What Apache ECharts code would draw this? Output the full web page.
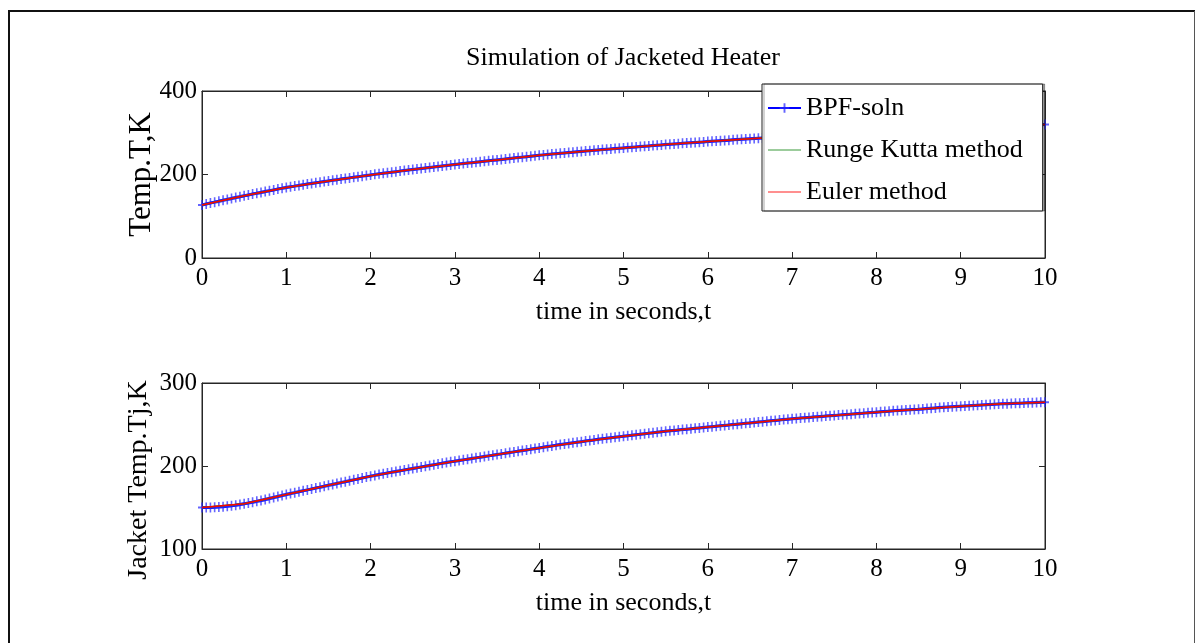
<!DOCTYPE html>
<html>
<head>
<meta charset="utf-8">
<script src="https://cdn.jsdelivr.net/npm/echarts@6/dist/echarts.min.js"></script>
<style>
  html, body { margin: 0; padding: 0; background: #fff; }
  #chart { width: 1197px; height: 643px; }
</style>
</head>
<body>
<div id="chart"></div>
<script>
// Time grid of the BPF solution (s)
const tFine = [
  0,0.05,0.1,0.15,0.2,0.25,0.3,0.35,0.4,0.45,0.5,0.55,0.6,0.65,0.7,0.75,0.8,0.85,0.9,0.95,
  1,1.05,1.1,1.15,1.2,1.25,1.3,1.35,1.4,1.45,1.5,1.55,1.6,1.65,1.7,1.75,1.8,1.85,1.9,1.95,
  2,2.05,2.1,2.15,2.2,2.25,2.3,2.35,2.4,2.45,2.5,2.55,2.6,2.65,2.7,2.75,2.8,2.85,2.9,2.95,
  3,3.05,3.1,3.15,3.2,3.25,3.3,3.35,3.4,3.45,3.5,3.55,3.6,3.65,3.7,3.75,3.8,3.85,3.9,3.95,
  4,4.05,4.1,4.15,4.2,4.25,4.3,4.35,4.4,4.45,4.5,4.55,4.6,4.65,4.7,4.75,4.8,4.85,4.9,4.95,
  5,5.05,5.1,5.15,5.2,5.25,5.3,5.35,5.4,5.45,5.5,5.55,5.6,5.65,5.7,5.75,5.8,5.85,5.9,5.95,
  6,6.05,6.1,6.15,6.2,6.25,6.3,6.35,6.4,6.45,6.5,6.55,6.6,6.65,6.7,6.75,6.8,6.85,6.9,6.95,
  7,7.05,7.1,7.15,7.2,7.25,7.3,7.35,7.4,7.45,7.5,7.55,7.6,7.65,7.7,7.75,7.8,7.85,7.9,7.95,
  8,8.05,8.1,8.15,8.2,8.25,8.3,8.35,8.4,8.45,8.5,8.55,8.6,8.65,8.7,8.75,8.8,8.85,8.9,8.95,
  9,9.05,9.1,9.15,9.2,9.25,9.3,9.35,9.4,9.45,9.5,9.55,9.6,9.65,9.7,9.75,9.8,9.85,9.9,9.95,
  10];

// Time grid of the Runge Kutta / Euler solutions (s)
const tCoarse = [0,0.5,1,1.5,2,2.5,3,3.5,4,4.5,5,5.5,6,6.5,7,7.5,8,8.5,9,9.5,10];

// Heater temperature T (K)
const bpfT = [
  127.0,129.3,131.6,133.8,136.0,138.2,140.4,142.6,144.7,146.8,148.9,151.0,153.1,155.1,157.1,159.1,161.1,163.1,165.1,167.0,
  169.0,170.6,172.2,173.8,175.4,177.0,178.6,180.1,181.6,183.1,184.6,186.1,187.6,189.1,190.5,191.9,193.3,194.7,196.1,197.5,
  199.0,200.3,201.6,202.9,204.2,205.5,206.8,208.1,209.4,210.6,211.8,213.0,214.2,215.4,216.6,217.8,219.0,220.2,221.4,222.6,
  223.8,225.0,226.2,227.3,228.4,229.5,230.6,231.7,232.8,233.9,235.0,236.1,237.2,238.3,239.4,240.5,241.6,242.7,243.8,244.9,
  246.0,247.0,248.0,248.9,249.8,250.7,251.6,252.5,253.4,254.3,255.2,256.1,257.0,257.9,258.8,259.7,260.5,261.3,262.1,262.9,
  263.7,264.5,265.3,266.1,266.9,267.7,268.5,269.3,270.1,270.9,271.7,272.5,273.2,273.9,274.6,275.3,276.0,276.7,277.4,278.1,
  278.8,279.5,280.2,280.9,281.6,282.3,283.0,283.7,284.4,285.1,285.8,286.4,287.0,287.6,288.2,288.8,289.4,290.0,290.6,291.2,
  291.8,292.4,293.0,293.6,294.2,294.8,295.4,295.9,296.4,296.9,297.4,297.9,298.4,298.9,299.4,299.9,300.4,300.9,301.4,301.9,
  302.4,302.9,303.4,303.9,304.4,304.9,305.4,305.9,306.4,306.9,307.4,307.9,308.4,308.9,309.4,309.8,310.2,310.6,311.0,311.4,
  311.8,312.2,312.6,313.0,313.4,313.8,314.2,314.6,315.0,315.4,315.8,316.2,316.6,317.0,317.4,317.8,318.2,318.6,319.0,319.4,
  319.8];
const rkT    = [127,148.9,169,184.6,199,211.8,223.8,235.0,246,255.2,263.7,271.7,278.8,285.8,291.8,297.4,302.4,307.4,311.8,315.8,319.8];
const eulerT = [127,148.9,169,184.6,199,211.8,223.8,235.0,246,255.2,263.7,271.7,278.8,285.8,291.8,297.4,302.4,307.4,311.8,315.8,319.8];

// Jacket temperature Tj (K)
const bpfTj = [
  150.0,150.0,150.1,150.3,150.6,151.0,151.5,152.1,152.8,153.6,154.5,155.4,156.4,157.4,158.5,159.6,160.8,162.0,163.2,164.4,
  165.6,166.8,167.9,169.0,170.1,171.2,172.3,173.4,174.5,175.6,176.7,177.8,178.9,180.0,181.1,182.2,183.3,184.4,185.5,186.6,
  187.7,188.7,189.7,190.7,191.6,192.5,193.4,194.3,195.2,196.1,197.0,197.9,198.8,199.7,200.6,201.5,202.4,203.3,204.2,205.0,
  205.8,206.6,207.4,208.2,209.0,209.8,210.6,211.4,212.2,213.0,213.8,214.6,215.4,216.2,217.0,217.8,218.6,219.4,220.2,221.0,
  221.8,222.6,223.4,224.2,225.0,225.8,226.5,227.2,227.9,228.6,229.3,230.0,230.7,231.4,232.1,232.8,233.4,234.0,234.6,235.2,
  235.8,236.4,237.0,237.6,238.2,238.8,239.4,240.0,240.6,241.2,241.8,242.4,242.9,243.4,243.9,244.4,244.9,245.4,245.9,246.4,
  246.9,247.4,247.9,248.4,248.9,249.4,249.9,250.4,250.9,251.4,251.9,252.4,252.9,253.4,253.9,254.4,254.9,255.4,255.9,256.4,
  256.9,257.3,257.7,258.1,258.5,258.9,259.3,259.7,260.1,260.5,260.9,261.3,261.7,262.1,262.5,262.9,263.3,263.7,264.1,264.5,
  264.9,265.3,265.7,266.1,266.5,266.9,267.2,267.5,267.8,268.1,268.4,268.8,269.2,269.6,270.0,270.4,270.7,271.0,271.3,271.6,
  271.9,272.2,272.5,272.8,273.1,273.4,273.7,274.0,274.3,274.6,274.9,275.1,275.3,275.5,275.7,275.9,276.1,276.3,276.5,276.7,
  276.9];
const rkTj    = [150,154.5,165.6,176.7,187.7,197.0,205.8,213.8,221.8,229.3,235.8,241.8,246.9,251.9,256.9,260.9,264.9,268.4,271.9,274.9,276.9];
const eulerTj = [150,154.5,165.6,176.7,187.7,197.0,205.8,213.8,221.8,229.3,235.8,241.8,246.9,251.9,256.9,260.9,264.9,268.4,271.9,274.9,276.9];

const seriesNames = ['BPF-soln', 'Runge Kutta method', 'Euler method'];
const xTitle = 'time in seconds,t';
const yTitles = ['Temp.T,K', 'Jacket Temp.Tj,K'];
const chartTitle = 'Simulation of Jacketed Heater';

const FONT = '"Liberation Serif", "Times New Roman", serif';
const AX = '#262626';
const plusPath = 'path://M4,0H6V10H4Z M0,4H10V6H0Z';
const flatLine = 'path://M0,0H100V3H0Z';

const pairs = (ts, vs) => ts.map((t, i) => [t, vs[i]]);

function xAxes(gridIndex) {
  return [
    {
      gridIndex, type: 'value', min: 0, max: 10, interval: 1,
      name: xTitle, nameLocation: 'middle', nameGap: 41, nameMoveOverlap: false,
      nameTextStyle: { fontFamily: FONT, fontSize: 26, color: '#000' },
      axisLine: { show: true, onZero: false, lineStyle: { color: AX, width: 1 } },
      axisTick: { show: true, inside: true, length: 6, lineStyle: { color: AX } },
      axisLabel: { fontFamily: FONT, fontSize: 25, color: '#000', margin: 8 },
      splitLine: { show: false }
    },
    {
      gridIndex, type: 'value', min: 0, max: 10, interval: 1, position: 'top',
      axisLine: { show: true, onZero: false, lineStyle: { color: AX, width: 1 } },
      axisTick: { show: true, inside: true, length: 6, lineStyle: { color: AX } },
      axisLabel: { show: false }, splitLine: { show: false }
    }
  ];
}

function yAxes(gridIndex, min, max, interval, title, nameSize, nameGap, namePad) {
  return [
    {
      gridIndex, type: 'value', min, max, interval,
      name: title, nameLocation: 'middle', nameGap, nameRotate: 90, nameMoveOverlap: false,
      nameTextStyle: { fontFamily: FONT, fontSize: nameSize, color: '#000', padding: namePad },
      axisLine: { show: true, onZero: false, lineStyle: { color: AX, width: 1 } },
      axisTick: { show: true, inside: true, length: 6, lineStyle: { color: AX } },
      axisLabel: { fontFamily: FONT, fontSize: 25, color: '#000', margin: 5, padding: [6, 0, 0, 0] },
      splitLine: { show: false }
    },
    {
      gridIndex, type: 'value', min, max, interval, position: 'right',
      axisLine: { show: true, onZero: false, lineStyle: { color: AX, width: 1 } },
      axisTick: { show: true, inside: true, length: 6, lineStyle: { color: AX } },
      axisLabel: { show: false }, splitLine: { show: false }
    }
  ];
}

function trio(xi, yi, bpf, rk, eu) {
  return [
    {
      name: seriesNames[0], type: 'line', xAxisIndex: xi, yAxisIndex: yi,
      data: pairs(tFine, bpf), showAllSymbol: true,
      symbol: plusPath, symbolSize: [8, 10], symbolKeepAspect: false,
      lineStyle: { color: '#0000ff', width: 3 },
      itemStyle: { color: 'rgba(40,40,255,0.72)' },
      emphasis: { disabled: true }, animation: false, z: 2
    },
    {
      name: seriesNames[1], type: 'line', xAxisIndex: xi, yAxisIndex: yi,
      data: pairs(tCoarse, rk), showSymbol: false, symbol: 'none',
      lineStyle: { color: '#1f8f1f', width: 1.5 },
      itemStyle: { color: '#3a9a3a' },
      emphasis: { disabled: true }, animation: false, z: 3
    },
    {
      name: seriesNames[2], type: 'line', xAxisIndex: xi, yAxisIndex: yi,
      data: pairs(tCoarse, eu), showSymbol: false, symbol: 'none',
      lineStyle: { color: '#ff0000', width: 1.5 },
      itemStyle: { color: '#ff2020' },
      emphasis: { disabled: true }, animation: false, z: 4
    }
  ];
}

const chart = echarts.init(document.getElementById('chart'), null, { renderer: 'canvas' });

chart.setOption({
  backgroundColor: '#fff',
  animation: false,
  title: {
    text: chartTitle, left: 618, top: 40, textAlign: 'center',
    textStyle: { fontFamily: FONT, fontSize: 26, fontWeight: 'normal', color: '#000' }
  },
  grid: [
    { left: 202, top: 91, width: 843, height: 167, show: true, borderColor: AX, borderWidth: 1, backgroundColor: '#fff' },
    { left: 202, top: 383, width: 843, height: 166, show: true, borderColor: AX, borderWidth: 1, backgroundColor: '#fff' }
  ],
  xAxis: [...xAxes(0), ...xAxes(1)],
  yAxis: [
    ...yAxes(0, 0, 400, 200, yTitles[0], 31, 45, 0),
    ...yAxes(1, 100, 300, 100, yTitles[1], 28, 49, [0, 28, 0, 0])
  ],
  legend: {
    data: [
      { name: seriesNames[0] },
      { name: seriesNames[1], icon: flatLine },
      { name: seriesNames[2], icon: flatLine }
    ],
    orient: 'vertical', left: 762, top: 84,
    padding: [10, 20, 5, 5], itemGap: 14,
    itemWidth: 33, itemHeight: 12,
    backgroundColor: '#fff', borderColor: '#222', borderWidth: 1,
    shadowColor: 'rgba(0,0,0,0.35)', shadowOffsetX: 2, shadowOffsetY: 0, shadowBlur: 0,
    textStyle: { fontFamily: FONT, fontSize: 26, color: '#000', lineHeight: 28 },
    selectedMode: false, z: 20
  },
  graphic: [
    { type: 'line', shape: { x1: 9, y1: 11, x2: 1195, y2: 11 }, style: { stroke: '#111', lineWidth: 2 }, silent: true },
    { type: 'line', shape: { x1: 9, y1: 10, x2: 9, y2: 643 }, style: { stroke: '#111', lineWidth: 2 }, silent: true },
    { type: 'line', shape: { x1: 1194.5, y1: 11, x2: 1194.5, y2: 643 }, style: { stroke: '#555', lineWidth: 1 }, silent: true }
  ],
  series: [
    ...trio(0, 0, bpfT, rkT, eulerT),
    ...trio(2, 2, bpfTj, rkTj, eulerTj)
  ]
});
</script>
</body>
</html>
